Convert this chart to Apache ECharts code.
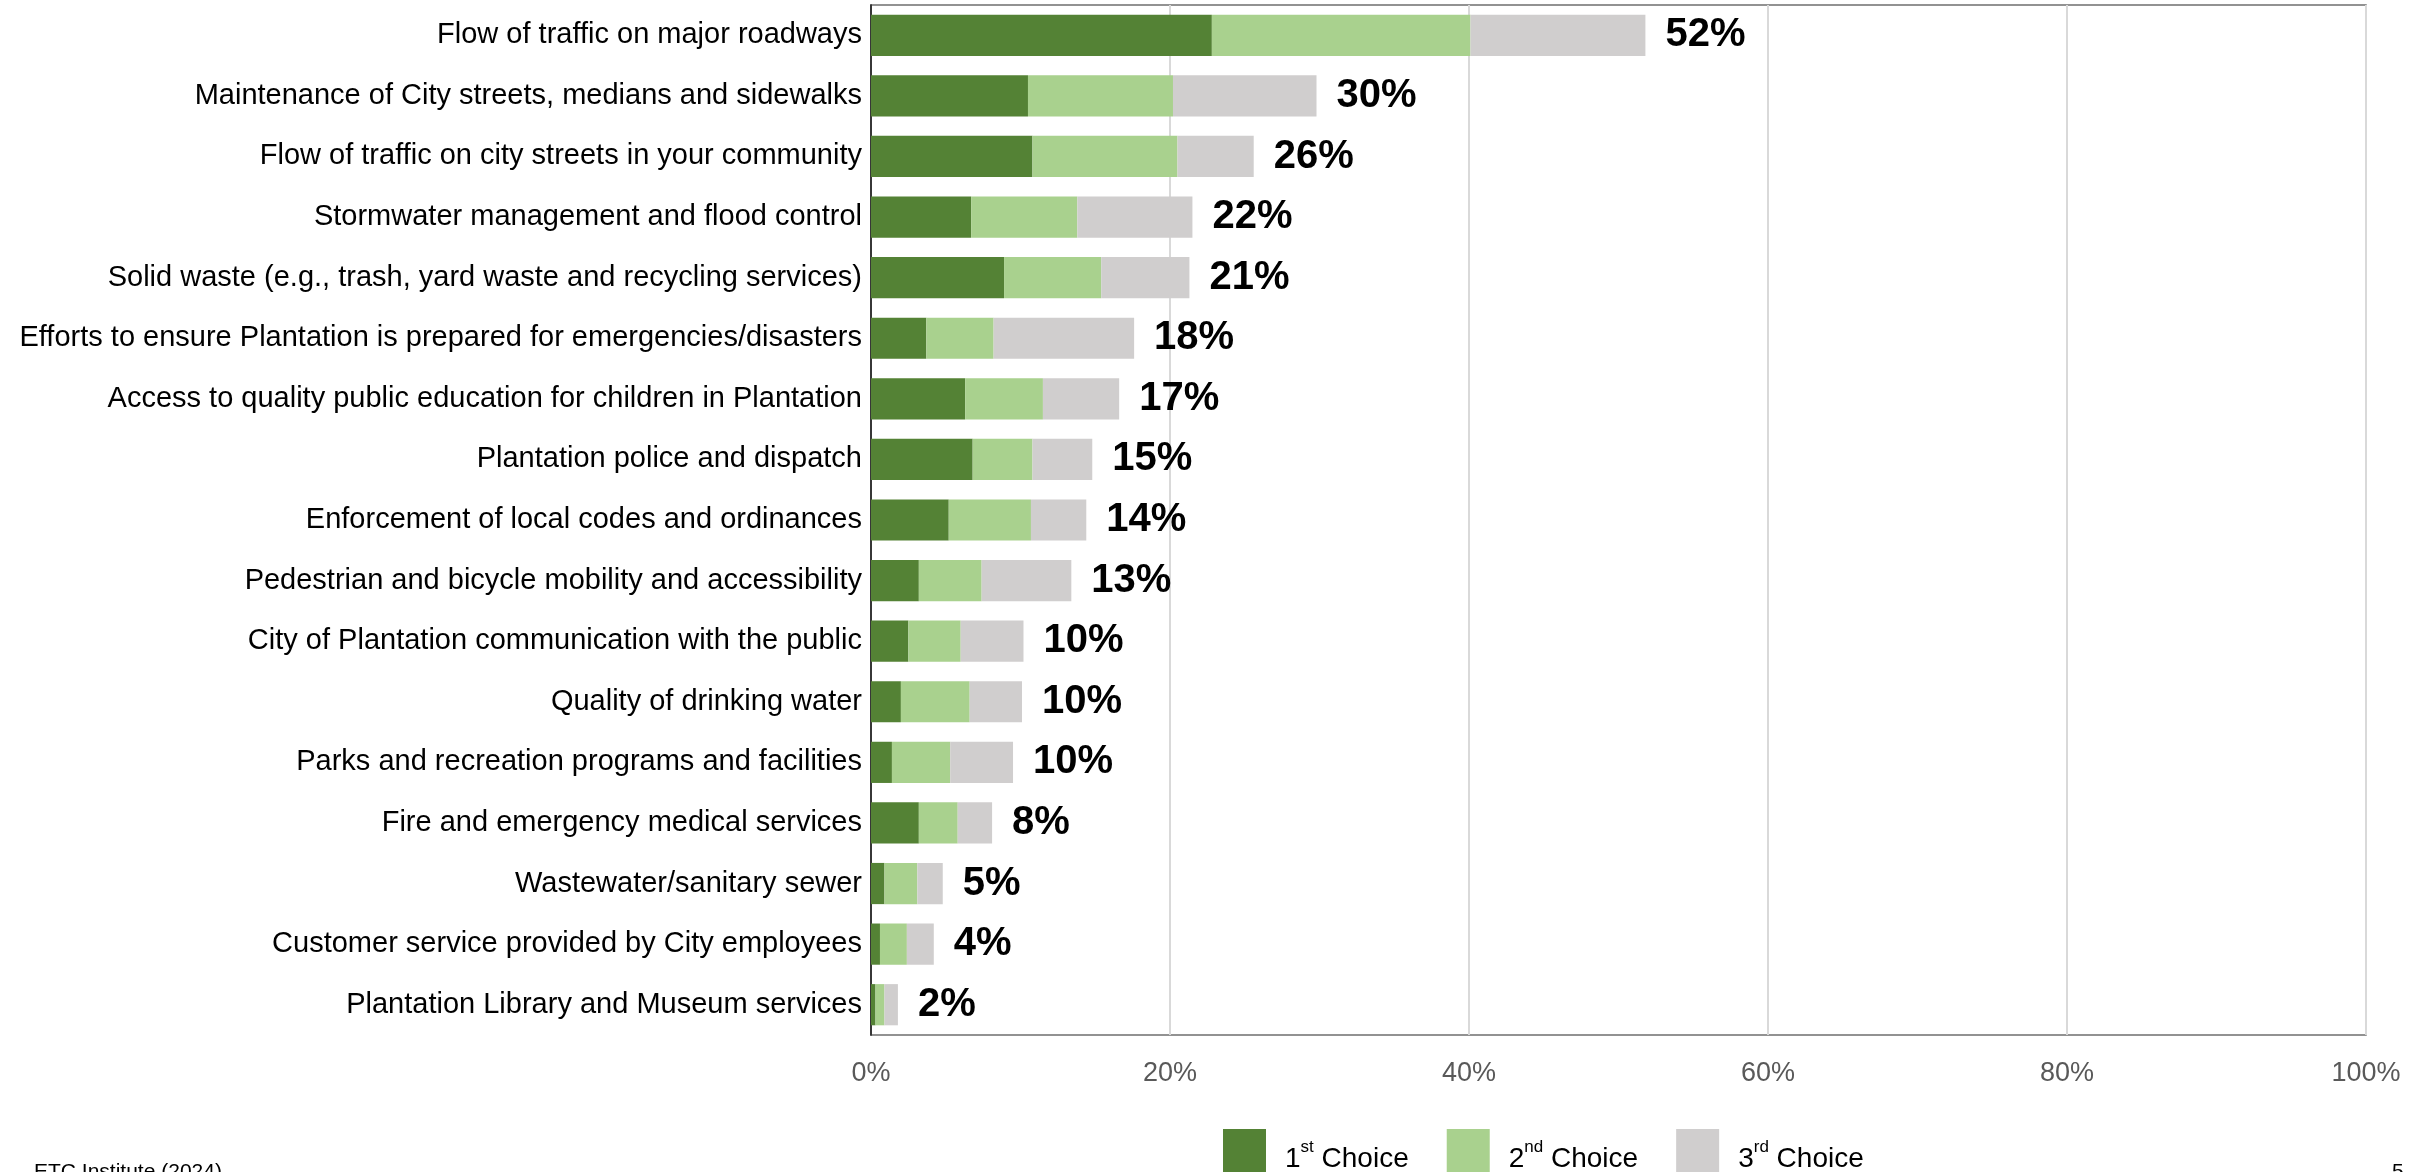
<!DOCTYPE html>
<html>
<head>
<meta charset="utf-8">
<script src="https://cdn.jsdelivr.net/npm/echarts@6/dist/echarts.min.js"></script>
<style>
  html, body { margin: 0; padding: 0; background: #fff; }
  #chart { width: 2430px; height: 1172px; }
</style>
</head>
<body>
<div id="chart"></div>
<script>
const categories = [
  'Flow of traffic on major roadways',
  'Maintenance of City streets, medians and sidewalks',
  'Flow of traffic on city streets in your community',
  'Stormwater management and flood control',
  'Solid waste (e.g., trash, yard waste and recycling services)',
  'Efforts to ensure Plantation is prepared for emergencies/disasters',
  'Access to quality public education for children in Plantation',
  'Plantation police and dispatch',
  'Enforcement of local codes and ordinances',
  'Pedestrian and bicycle mobility and accessibility',
  'City of Plantation communication with the public',
  'Quality of drinking water',
  'Parks and recreation programs and facilities',
  'Fire and emergency medical services',
  'Wastewater/sanitary sewer',
  'Customer service provided by City employees',
  'Plantation Library and Museum services'
];
const firstChoice  = [22.8, 10.5, 10.8, 6.7, 8.9, 3.7, 6.3, 6.8, 5.2, 3.2, 2.5, 2.0, 1.4, 3.2, 0.9, 0.6, 0.3];
const secondChoice = [17.3, 9.7, 9.7, 7.1, 6.5, 4.5, 5.2, 4.0, 5.5, 4.2, 3.5, 4.6, 3.9, 2.6, 2.2, 1.8, 0.6];
const thirdChoice  = [11.7, 9.6, 5.1, 7.7, 5.9, 9.4, 5.1, 4.0, 3.7, 6.0, 4.2, 3.5, 4.2, 2.3, 1.7, 1.8, 0.9];
const totals = [52, 30, 26, 22, 21, 18, 17, 15, 14, 13, 10, 10, 10, 8, 5, 4, 2];
const xTicks = [0, 20, 40, 60, 80, 100];

const font = '"Liberation Sans", Arial, sans-serif';
// legend names with superscript ordinals
const supers = {
  '1st Choice': '{g|}1{s|st}{t| Choice}',
  '2nd Choice': '{g|}2{s|nd}{t| Choice}',
  '3rd Choice': '{g|}3{s|rd}{t| Choice}'
};

const chart = echarts.init(document.getElementById('chart'));

function bar(name, data, color) {
  return {
    name: name,
    type: 'bar',
    stack: 'total',
    data: data,
    barCategoryGap: '32%',
    itemStyle: { color: color },
    emphasis: { disabled: true }
  };
}

const s3 = bar('3rd Choice', thirdChoice, '#d0cece');
s3.label = {
  show: true,
  position: 'right',
  distance: 20,
  formatter: p => totals[p.dataIndex] + '%',
  fontFamily: font,
  fontWeight: 'bold',
  fontSize: 40,
  color: '#000'
};

chart.setOption({
  animation: false,
  textStyle: { fontFamily: font },
  grid: {
    left: 871, right: 64, top: 5, bottom: 137,
    show: true, borderColor: '#6f6f6f', borderWidth: 1.5
  },
  legend: {
    left: 1218, top: 1124,
    icon: 'rect',
    itemWidth: 43, itemHeight: 60,
    itemGap: 38,
    selectedMode: false,
    formatter: n => supers[n],
    textStyle: {
      fontFamily: font, fontSize: 28, color: '#000',
      rich: {
        g: { width: 14 },
        t: { fontFamily: font, fontSize: 28, lineHeight: 40, color: '#000' },
        s: { fontFamily: font, fontSize: 17, lineHeight: 40, verticalAlign: 'top', color: '#000' }
      }
    }
  },
  xAxis: {
    type: 'value',
    min: xTicks[0], max: xTicks[xTicks.length - 1], interval: 20,
    axisLine: { show: false },
    axisTick: { show: false },
    splitLine: { lineStyle: { color: '#d9d9d9', width: 2 } },
    axisLabel: { formatter: '{value}%', fontSize: 27, color: '#595959', margin: 25, fontFamily: font }
  },
  yAxis: {
    type: 'category',
    data: categories,
    inverse: true,
    axisLine: { show: true, lineStyle: { color: '#000', width: 1.5 } },
    axisTick: { show: false },
    axisLabel: { fontSize: 29, color: '#000', margin: 9, fontFamily: font }
  },
  graphic: [
    { type: 'text', left: 34, top: 1162, style: { text: 'ETC Institute (2024)', fontSize: 21, fill: '#000', fontFamily: font } },
    { type: 'text', left: 2392, top: 1162, style: { text: '5', fontSize: 21, fill: '#000', fontFamily: font } }
  ],
  series: [
    bar('1st Choice', firstChoice, '#548235'),
    bar('2nd Choice', secondChoice, '#a9d18e'),
    s3
  ]
});
</script>
</body>
</html>
